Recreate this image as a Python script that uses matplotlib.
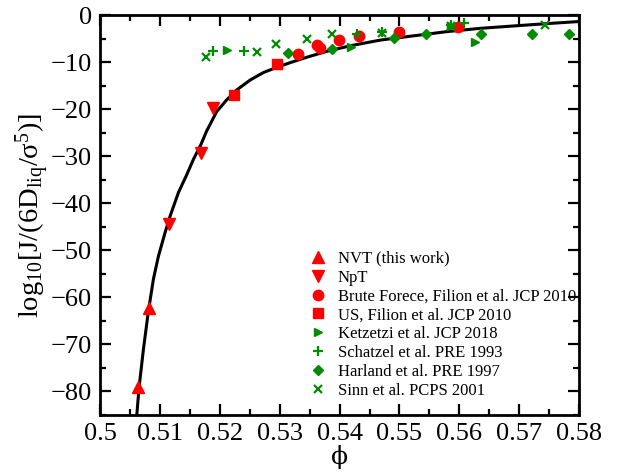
import matplotlib
matplotlib.use("Agg")
import matplotlib.pyplot as plt
from matplotlib.ticker import MultipleLocator

plt.rcParams['font.family'] = ['Liberation Serif', 'DejaVu Serif']
plt.rcParams['mathtext.fontset'] = 'custom'
plt.rcParams['mathtext.rm'] = 'Liberation Serif'
plt.rcParams['mathtext.it'] = 'Liberation Serif'

RED = '#ff0000'
GREEN = '#008b00'

# Fit curve
curve_phi = [0.50612, 0.50651, 0.50724, 0.50807, 0.50890, 0.50974, 0.51085, 0.51169,
             0.51308, 0.51447, 0.51560, 0.51680, 0.51780, 0.51947, 0.52114, 0.52281,
             0.52505, 0.52727, 0.52949, 0.53173, 0.53450, 0.53784, 0.54180, 0.54680,
             0.55230, 0.55790, 0.56350, 0.56900, 0.57460, 0.58000]
curve_val = [-85.0, -79.0, -70.9, -62.8, -56.1, -51.2, -46.2, -42.7,
             -37.7, -33.9, -30.6, -27.6, -24.6, -20.5, -18.0, -15.9,
             -13.8, -12.2, -11.1, -10.1, -8.95, -7.7, -6.5, -5.3,
             -4.4, -3.5, -2.8, -2.3, -1.8, -1.35]

nvt_phi = [0.5064, 0.5081]
nvt_val = [-79.0, -62.3]

npt_phi = [0.5115, 0.5168, 0.5189]
npt_val = [-44.3, -29.3, -19.7]

bf_phi = [0.5330, 0.5363, 0.5368, 0.5399, 0.5433, 0.5500, 0.5598]
bf_val = [-8.25, -6.35, -6.9, -5.3, -4.4, -3.5, -2.6]

us_phi = [0.5224, 0.5296]
us_val = [-16.9, -10.4]

ket_phi = [0.5212, 0.5419, 0.5586, 0.5627]
ket_val = [-7.4, -6.7, -2.3, -5.8]

sch_phi = [0.5189, 0.5241, 0.5429, 0.5470, 0.5586, 0.5607]
sch_val = [-7.6, -7.55, -3.9, -3.5, -2.1, -1.6]

har_phi = [0.5313, 0.5387, 0.5491, 0.5544, 0.5637, 0.5721, 0.5784]
har_val = [-8.1, -7.2, -4.8, -4.1, -3.9, -3.9, -3.9]

sinn_phi = [0.5177, 0.5262, 0.5293, 0.5345, 0.5387, 0.5470, 0.5586, 0.5743]
sinn_val = [-8.8, -7.9, -6.1, -5.1, -3.9, -3.7, -2.3, -2.1]

fig = plt.figure(figsize=(6.26, 4.74), dpi=100)
ax = fig.add_axes([0.160, 0.1245, 0.765, 0.8435])

ax.plot(curve_phi, curve_val, color='black', lw=2.2, solid_joinstyle='round',
        solid_capstyle='round', zorder=2)

ax.plot(nvt_phi, nvt_val, '^', color=RED, ms=8.5, ls='none', label='NVT (this work)', zorder=3)
ax.plot(npt_phi, npt_val, 'v', color=RED, ms=8.5, ls='none', label='NpT', zorder=3)
ax.plot(bf_phi, bf_val, 'o', color=RED, ms=7.5, ls='none', label='Brute Forece, Filion et al. JCP 2010', zorder=3)
ax.plot(us_phi, us_val, 's', color=RED, ms=7, ls='none', label='US, Filion et al. JCP 2010', zorder=3)
ax.plot(ket_phi, ket_val, '>', color=GREEN, ms=6, ls='none', label='Ketzetzi et al. JCP 2018', zorder=3)
ax.plot(sch_phi, sch_val, '+', color=GREEN, ms=7.5, mew=1.6, ls='none', label='Schatzel et al. PRE 1993', zorder=3)
ax.plot(har_phi, har_val, 'D', color=GREEN, ms=5, ls='none', label='Harland et al. PRE 1997', zorder=3)
ax.plot(sinn_phi, sinn_val, 'x', color=GREEN, ms=6, mew=1.6, ls='none', label='Sinn et al. PCPS 2001', zorder=3)

ax.set_xlim(0.5, 0.58)
ax.set_ylim(-85, 0)
ax.xaxis.set_major_locator(MultipleLocator(0.01))
ax.xaxis.set_minor_locator(MultipleLocator(0.005))
ax.yaxis.set_major_locator(MultipleLocator(10))
ax.yaxis.set_minor_locator(MultipleLocator(5))
ax.set_xticks([0.5, 0.51, 0.52, 0.53, 0.54, 0.55, 0.56, 0.57, 0.58])
ax.set_xticklabels(['0.5', '0.51', '0.52', '0.53', '0.54', '0.55', '0.56', '0.57', '0.58'])

for s in ax.spines.values():
    s.set_linewidth(2)
ax.tick_params(which='both', direction='in', top=True, right=True, width=1.6)
ax.tick_params(which='major', length=8, labelsize=19, pad=6)
ax.tick_params(which='minor', length=4)

ax.set_xlabel('\u03d5', fontsize=18, labelpad=0, family=['DejaVu Serif'])
ax.set_ylabel(r'$\mathregular{log_{10}[J/(6D_{liq}/\sigma^{5})]}$', fontsize=20.5, labelpad=-1)

leg = ax.legend(loc='upper left', bbox_to_anchor=(0.430, 0.4275), frameon=False, fontsize=12,
                labelspacing=0.17, handletextpad=0.9, handlelength=0.6, borderaxespad=0.0)

fig.savefig('out.png', dpi=100)
